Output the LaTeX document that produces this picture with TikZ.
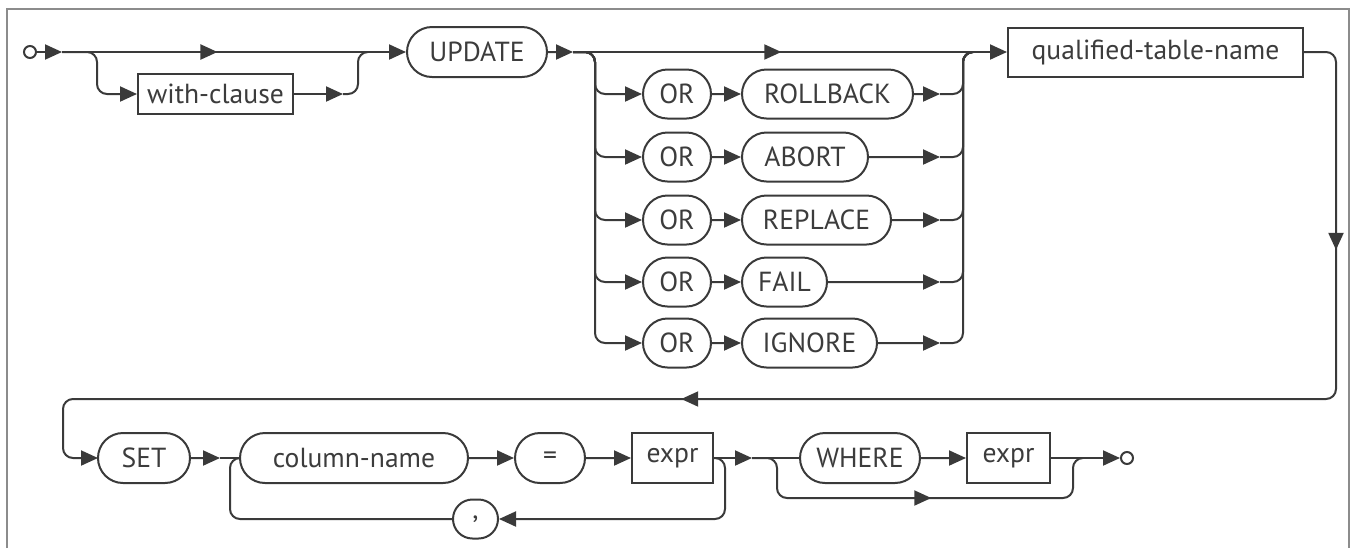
\documentclass[tikz,border=0pt]{standalone}
\usepackage{fontspec}
\setmainfont{PT Sans}
\usetikzlibrary{arrows.meta,shapes.misc,decorations.markings}
\definecolor{railgray}{HTML}{3A3A3A}
\definecolor{textgray}{HTML}{3C3C3C}
\definecolor{framegray}{HTML}{8C8C8C}
\tikzset{
	rail/.style={line width=1pt, draw=railgray, line join=round},
	arr/.style={-{Triangle[length=8.5pt,width=7.5pt]}},
	midarr/.style={postaction={decorate, decoration={markings,
		mark=at position #1 with {\arrow{Triangle[length=8.5pt,width=7.5pt]}}}}},
	kw/.style={draw=railgray, line width=1pt, rounded rectangle, minimum height=24.5pt, inner sep=0pt, text=textgray},
	nt/.style={draw=railgray, line width=1pt, rectangle, minimum height=25pt, inner sep=0pt, text=textgray},
	dot/.style={draw=railgray, line width=1pt, circle, minimum size=6pt, inner sep=0pt}
}
\begin{document}
\begin{tikzpicture}[x=0.5pt, y=-0.5pt, font=\fontsize{13.8}{16}\selectfont]
	\useasboundingbox (0,0) rectangle (1351,548);
	\draw[framegray, line width=1pt] (7,548) -- (7,9) -- (1349,9) -- (1349,548);
	
	% first line
	\node[dot] (start) at (30,52) {};
	\node[nt, minimum width=77.5pt, minimum height=20pt] (wc) at (215.5,94) {with-clause};
	\node[kw, minimum width=70pt, minimum height=25pt] (upd) at (477,52) {UPDATE};
	\node[nt, minimum width=147.5pt, minimum height=24.5pt] (qtn) at (1155.5,52) {qualified-table-name};
	\coordinate (a1) at (62,52);
	\coordinate (s1) at (97,52);
	\coordinate (w1) at (343,94);
	\coordinate (j1) at (358,52);
	\coordinate (j1r) at (368,52);
	\coordinate (a2) at (573,52);
	\coordinate (s2) at (595,52);
	\coordinate (j2) at (963,52);
	\coordinate (j2r) at (973,52);
	\draw[rail,arr] (start) -- (a1);
	\draw[rail,arr,midarr=0.452] (a1) -- (upd);
	\draw[rail,arr,rounded corners=5pt] (a1) -- (s1) |- (wc.west);
	\draw[rail,arr] (wc) -- (w1);
	\draw[rail,rounded corners=5pt] (w1) -| (j1) -- (j1r);
	\draw[rail,arr] (upd) -- (a2);
	\draw[rail,arr,midarr=0.48] (a2) -- (qtn);
	\foreach \kw/\y/\x/\w [count=\i] in {ROLLBACK/94/827.5/85.5, ABORT/157/805/63, REPLACE/220/816.5/74.5, FAIL/282/784.5/42.5, IGNORE/343/809.5/67.5}{
		\node[kw, minimum width=34pt] (or\i) at (677,\y) {OR};
		\node[kw, minimum width=\w pt] (kw\i) at (\x,\y) {\kw};
		\coordinate (e\i) at (940,\y);
		\draw[rail,arr,rounded corners=5pt] (a2) -- (s2) |- (or\i.west);
		\draw[rail,arr] (or\i) -- (kw\i);
		\draw[rail,arr] (kw\i) -- (e\i);
		\draw[rail,rounded corners=5pt] (e\i) -| (j2) -- (j2r);
	}
	
	% turn down and back
	\draw[rail,arr,rounded corners=5pt,midarr=0.1305,midarr=0.593] (qtn.east) -| (1336,399) -| (63,458) -- (98,458);
	
	% second line
	\node[kw, minimum width=46pt, minimum height=25pt] (set) at (144,458) {SET};
	\node[kw, minimum width=114pt, minimum height=25pt] (cn) at (354,458) {column-name};
	\node[kw, minimum width=35pt, minimum height=25pt] (eq) at (550,458) {=};
	\node[nt, minimum width=40.5pt] (ex1) at (672.5,458) {expr};
	\node[kw, minimum width=22.5pt, minimum height=19.5pt] (cm) at (475.5,519) {,};
	\node[kw, minimum width=60pt, minimum height=25pt] (wh) at (860,458) {WHERE};
	\node[nt, minimum width=41.5pt] (ex2) at (1008.5,458) {expr};
	\node[dot] (end) at (1127,458) {};
	\coordinate (a3) at (220,458);
	\coordinate (lp2) at (230,458);
	\coordinate (lp1) at (725,519);
	\coordinate (a4) at (752,458);
	\coordinate (s4) at (777,458);
	\coordinate (b4) at (925,498);
	\coordinate (j4) at (1073,458);
	\coordinate (j4r) at (1083,458);
	\draw[rail,arr] (set) -- (a3);
	\draw[rail] (a3) -- (cn);
	\draw[rail,arr] (cn) -- (eq);
	\draw[rail,arr] (eq) -- (ex1);
	\draw[rail,arr,rounded corners=5pt] (ex1.east) -| (lp1) -- (cm.east);
	\draw[rail,rounded corners=5pt] (cm.west) -| (lp2) -- (cn.west);
	\draw[rail,arr] (ex1) -- (a4);
	\draw[rail] (a4) -- (wh);
	\draw[rail,rounded corners=5pt,midarr=0.535] (a4) -- (s4) |- (b4) -| (j4) -- (j4r);
	\draw[rail,arr] (wh) -- (ex2);
	\draw[rail,arr] (ex2) -- (end);
\end{tikzpicture}
\end{document}
